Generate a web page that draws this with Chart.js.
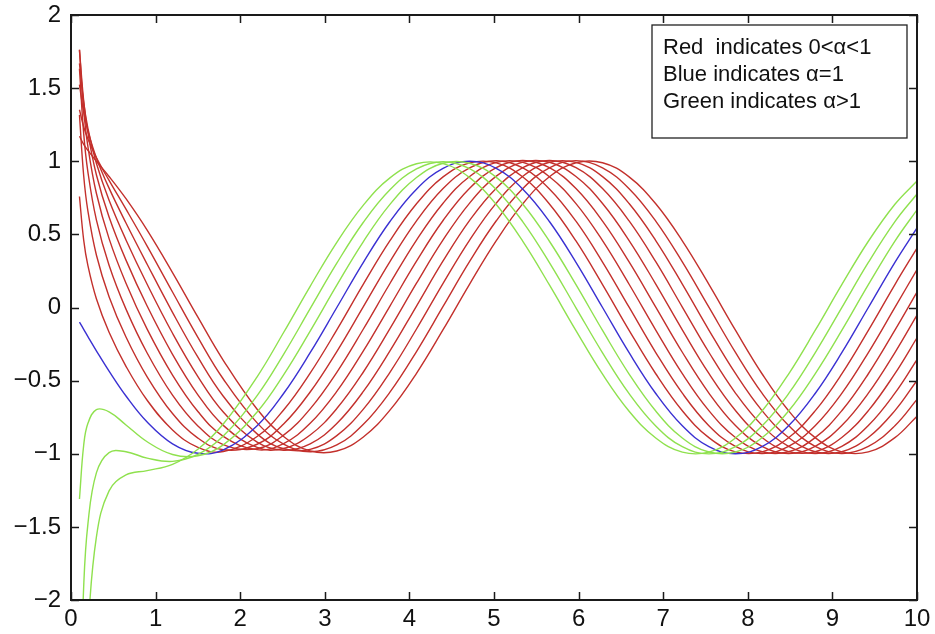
<!DOCTYPE html>
<html>
<head>
<meta charset="utf-8">
<script src="https://cdn.jsdelivr.net/npm/chart.js@4/dist/chart.umd.min.js"></script>
<style>
  body { margin: 0; background: #fff; }
  canvas { display: block; }
</style>
</head>
<body>
<canvas id="fracChart" width="935" height="634"></canvas>
<script>
// t values shared by every curve (dense near t=0 where the curves bend hard)
const tValues = [0.1, 0.15, 0.2, 0.3, 0.45, 0.65, 0.9, 1.2, 1.5, 1.8, 2.2,
  2.513, 2.827, 3.142, 3.456, 3.770, 4.084, 4.398, 4.712, 5.027, 5.341, 5.655, 5.969,
  6.283, 6.597, 6.912, 7.226, 7.540, 7.854, 8.168, 8.482, 8.796, 9.111, 9.425, 9.739, 10];

// red curves, 0 < alpha < 1 (alpha = 0.1 ... 0.9)
const red1 = [1.171, 1.116, 1.074, 1.000, 0.896, 0.744, 0.529, 0.239, -0.066, -0.361, -0.696, -0.882, -0.980, -0.981, -0.885, -0.702, -0.450, -0.152, 0.160, 0.457, 0.710, 0.894, 0.990, 0.990, 0.893, 0.709, 0.456, 0.158, -0.155, -0.453, -0.706, -0.890, -0.987, -0.987, -0.890, -0.743];
const red2 = [1.352, 1.236, 1.152, 1.025, 0.869, 0.672, 0.420, 0.106, -0.204, -0.489, -0.789, -0.934, -0.986, -0.940, -0.799, -0.579, -0.301, 0.007, 0.315, 0.593, 0.814, 0.955, 1.004, 0.955, 0.812, 0.591, 0.312, 0.002, -0.307, -0.586, -0.807, -0.949, -0.998, -0.950, -0.808, -0.629];
const red3 = [1.524, 1.335, 1.207, 1.023, 0.816, 0.578, 0.296, -0.033, -0.340, -0.607, -0.864, -0.966, -0.970, -0.876, -0.695, -0.443, -0.147, 0.165, 0.461, 0.714, 0.897, 0.993, 0.992, 0.895, 0.711, 0.458, 0.160, -0.154, -0.451, -0.705, -0.889, -0.986, -0.986, -0.889, -0.705, -0.499];
const red4 = [1.669, 1.401, 1.225, 0.986, 0.733, 0.462, 0.159, -0.176, -0.472, -0.714, -0.921, -0.976, -0.932, -0.793, -0.574, -0.297, 0.010, 0.318, 0.596, 0.816, 0.957, 1.005, 0.956, 0.813, 0.592, 0.313, 0.003, -0.306, -0.585, -0.806, -0.949, -0.998, -0.949, -0.807, -0.586, -0.357];
const red5 = [1.760, 1.413, 1.195, 0.908, 0.619, 0.324, 0.010, -0.320, -0.597, -0.806, -0.957, -0.964, -0.872, -0.691, -0.441, -0.145, 0.166, 0.462, 0.714, 0.898, 0.994, 0.993, 0.896, 0.711, 0.458, 0.160, -0.153, -0.451, -0.704, -0.889, -0.985, -0.986, -0.889, -0.705, -0.452, -0.207];
const red6 = [1.763, 1.351, 1.100, 0.781, 0.471, 0.166, -0.148, -0.462, -0.711, -0.881, -0.972, -0.930, -0.792, -0.574, -0.297, 0.010, 0.317, 0.595, 0.815, 0.957, 1.005, 0.956, 0.813, 0.591, 0.312, 0.003, -0.306, -0.585, -0.807, -0.949, -0.998, -0.949, -0.807, -0.586, -0.308, -0.052];
const red7 = [1.632, 1.189, 0.926, 0.599, 0.289, -0.011, -0.311, -0.599, -0.810, -0.937, -0.965, -0.873, -0.693, -0.443, -0.147, 0.164, 0.461, 0.713, 0.896, 0.992, 0.992, 0.894, 0.710, 0.457, 0.159, -0.154, -0.452, -0.705, -0.889, -0.986, -0.986, -0.890, -0.706, -0.453, -0.155, 0.105];
const red8 = [1.317, 0.901, 0.659, 0.359, 0.074, -0.202, -0.474, -0.725, -0.893, -0.973, -0.935, -0.797, -0.578, -0.301, 0.006, 0.314, 0.592, 0.813, 0.954, 1.003, 0.954, 0.811, 0.590, 0.311, 0.002, -0.308, -0.586, -0.808, -0.950, -0.999, -0.950, -0.808, -0.587, -0.308, 0.001, 0.259];
const red9 = [0.759, 0.461, 0.286, 0.060, -0.169, -0.402, -0.634, -0.837, -0.956, -0.985, -0.882, -0.701, -0.449, -0.153, 0.160, 0.457, 0.709, 0.893, 0.989, 0.989, 0.892, 0.708, 0.455, 0.157, -0.156, -0.453, -0.706, -0.890, -0.987, -0.987, -0.891, -0.707, -0.454, -0.156, 0.157, 0.406];

// blue curve, alpha = 1
const blue = [-0.100, -0.149, -0.199, -0.296, -0.435, -0.605, -0.783, -0.932, -0.997, -0.974, -0.808, -0.588, -0.309, 0, 0.309, 0.588, 0.809, 0.951, 1, 0.951, 0.809, 0.588, 0.309, 0, -0.309, -0.588, -0.809, -0.951, -1, -0.951, -0.809, -0.588, -0.309, 0, 0.309, 0.544];

// green curves, alpha > 1 (alpha = 1.1, 1.2, 1.3)
const green1 = [-1.309, -0.942, -0.792, -0.698, -0.713, -0.803, -0.918, -1.005, -1.014, -0.939, -0.714, -0.460, -0.161, 0.153, 0.451, 0.705, 0.889, 0.986, 0.986, 0.890, 0.706, 0.453, 0.156, -0.157, -0.455, -0.708, -0.892, -0.988, -0.988, -0.891, -0.708, -0.454, -0.157, 0.156, 0.454, 0.668];
const green2 = [-2.893, -1.908, -1.479, -1.131, -0.992, -0.986, -1.030, -1.052, -1.005, -0.879, -0.602, -0.320, -0.008, 0.303, 0.583, 0.805, 0.948, 0.997, 0.949, 0.807, 0.586, 0.307, -0.002, -0.310, -0.589, -0.810, -0.952, -1.001, -0.952, -0.810, -0.589, -0.310, -0.001, 0.308, 0.587, 0.776];
const green3 = [-4.832, -3.012, -2.226, -1.570, -1.254, -1.145, -1.115, -1.072, -0.969, -0.797, -0.474, -0.171, 0.145, 0.446, 0.700, 0.886, 0.983, 0.984, 0.888, 0.704, 0.452, 0.154, -0.158, -0.456, -0.709, -0.892, -0.989, -0.989, -0.892, -0.708, -0.455, -0.157, 0.156, 0.453, 0.706, 0.865];

const xTicks = [0, 1, 2, 3, 4, 5, 6, 7, 8, 9, 10];
const yTicks = [-2, -1.5, -1, -0.5, 0, 0.5, 1, 1.5, 2];
const legendLines = ['Red  indicates 0<\u03b1<1', 'Blue indicates \u03b1=1', 'Green indicates \u03b1>1'];

const RED = '#c3302c';
const BLUE = '#3a30d2';
const GREEN = '#8fe14e';
const FONT = '"Liberation Sans", Arial, Helvetica, sans-serif';

function makeSet(values, color) {
    return {
        data: tValues.map((t, i) => ({ x: t, y: values[i] })),
        borderColor: color,
        borderWidth: 1.4,
        pointRadius: 0,
        tension: 0.4,
        fill: false
    };
}

// first dataset is drawn on top: greens, then blue, then reds
const datasets = [
    makeSet(green1, GREEN), makeSet(green2, GREEN), makeSet(green3, GREEN),
    makeSet(blue, BLUE),
    ...[red1, red2, red3, red4, red5, red6, red7, red8, red9].map(r => makeSet(r, RED))
];

// box round the plot, inward ticks on all four sides, and the text box
const framePlugin = {
    id: 'frame',
    afterDatasetsDraw(chart) {
        const { ctx, chartArea: a, scales } = chart;
        ctx.save();
        ctx.strokeStyle = '#1a1a1a';
        ctx.lineWidth = 1.5;
        ctx.beginPath();
        xTicks.forEach(v => {
            const px = Math.round(scales.x.getPixelForValue(v)) + 0.5;
            ctx.moveTo(px, a.bottom); ctx.lineTo(px, a.bottom - 8);
            ctx.moveTo(px, a.top); ctx.lineTo(px, a.top + 8);
        });
        yTicks.forEach(v => {
            const py = Math.round(scales.y.getPixelForValue(v)) + 0.5;
            ctx.moveTo(a.left, py); ctx.lineTo(a.left + 8, py);
            ctx.moveTo(a.right, py); ctx.lineTo(a.right - 8, py);
        });
        ctx.stroke();
        ctx.lineWidth = 2;
        ctx.strokeRect(a.left, a.top, a.right - a.left, a.bottom - a.top);

        // text box in the upper right corner
        const bx = a.right - 265, by = a.top + 10, bw = 255, bh = 113;
        ctx.fillStyle = '#fff';
        ctx.fillRect(bx, by, bw, bh);
        ctx.lineWidth = 1.3;
        ctx.strokeStyle = '#222';
        ctx.strokeRect(bx, by, bw, bh);
        ctx.fillStyle = '#111';
        ctx.font = '22px ' + FONT;
        ctx.textBaseline = 'middle';
        ctx.textAlign = 'left';
        legendLines.forEach((line, i) => ctx.fillText(line, bx + 11, by + 23 + i * 27));
        ctx.restore();
    }
};

new Chart(document.getElementById('fracChart'), {
    type: 'line',
    data: { datasets: datasets },
    options: {
        responsive: false,
        animation: false,
        devicePixelRatio: 1,
        layout: { padding: { left: 0, top: 15, right: 18, bottom: 0 } },
        plugins: { legend: { display: false }, tooltip: { enabled: false } },
        scales: {
            x: {
                type: 'linear',
                min: 0,
                max: 10,
                afterFit: s => { s.height = 34; s.paddingLeft = 0; s.paddingRight = 0; },
                afterBuildTicks: s => { s.ticks = xTicks.map(v => ({ value: v })); },
                grid: { display: false, drawTicks: false },
                border: { display: false },
                ticks: { color: '#111', font: { family: FONT, size: 24 }, padding: 5, maxRotation: 0, autoSkip: false }
            },
            y: {
                type: 'linear',
                min: -2,
                max: 2,
                afterFit: s => { s.width = 71; s.paddingTop = 0; s.paddingBottom = 0; },
                afterBuildTicks: s => { s.ticks = yTicks.map(v => ({ value: v })); },
                grid: { display: false, drawTicks: false },
                border: { display: false },
                ticks: {
                    color: '#111',
                    font: { family: FONT, size: 24 },
                    padding: 10,
                    autoSkip: false,
                    callback: v => (v < 0 ? '\u2212' + Math.abs(v) : String(v))
                }
            }
        }
    },
    plugins: [framePlugin]
});
</script>
</body>
</html>
